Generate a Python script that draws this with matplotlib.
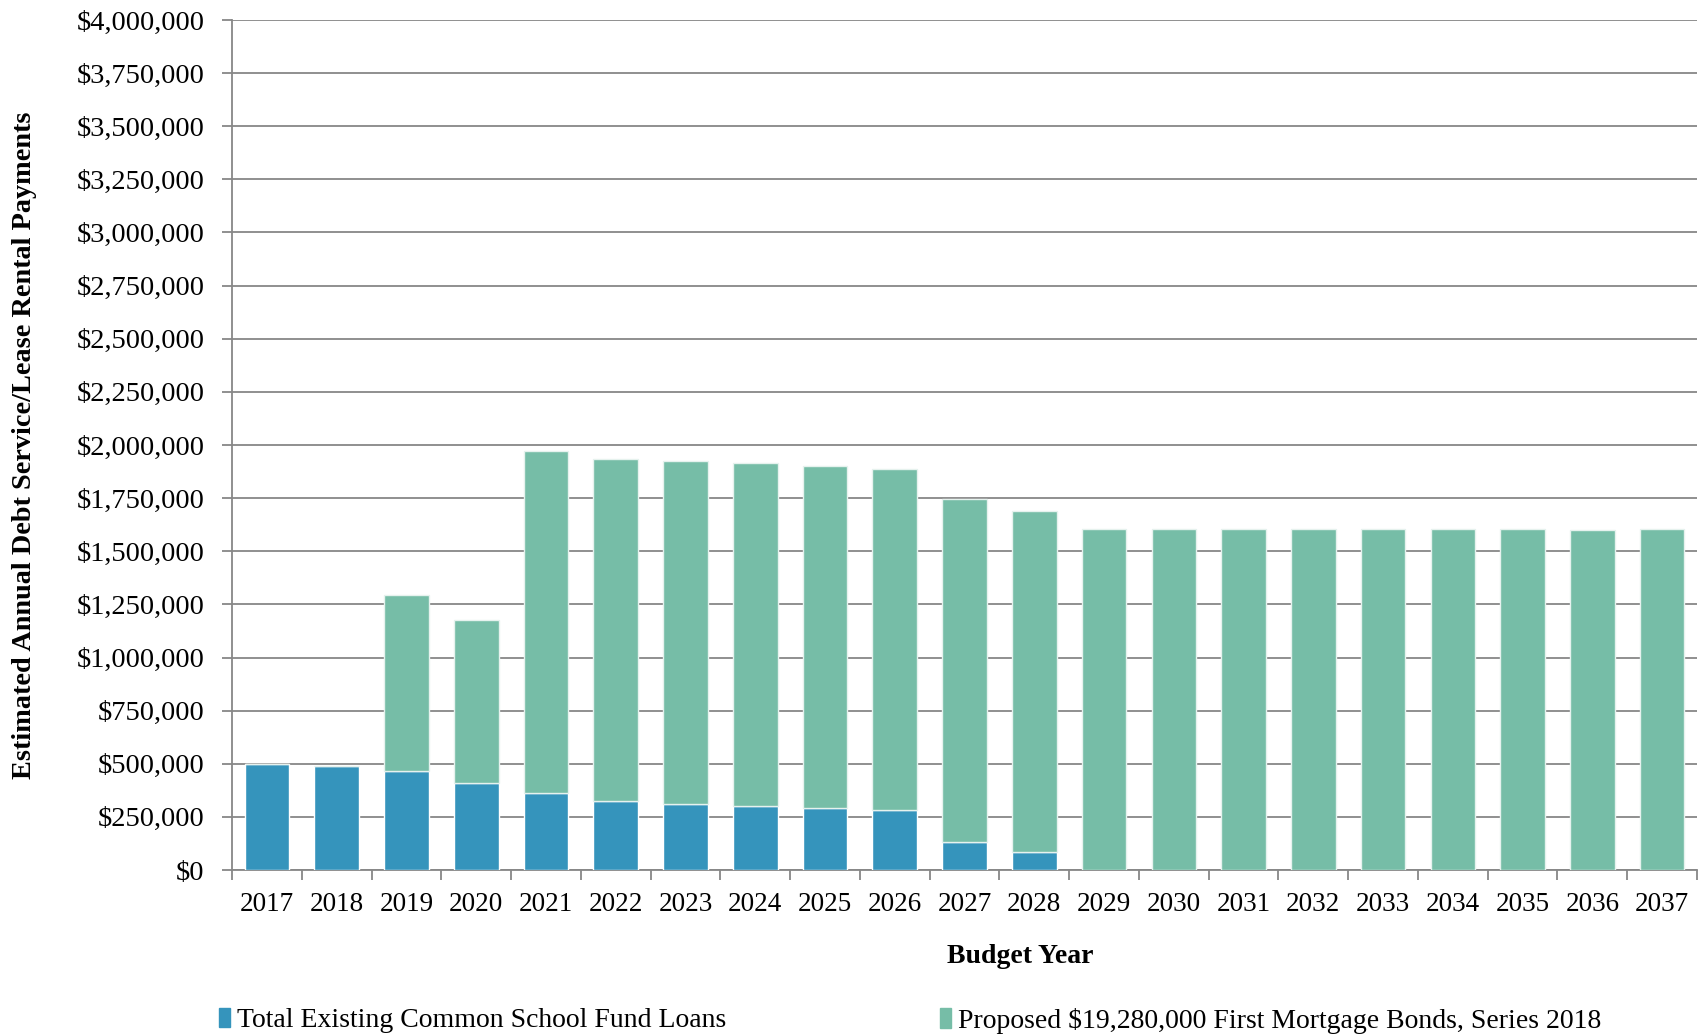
import matplotlib.pyplot as plt
import matplotlib.patches as mpatches
from matplotlib.ticker import FuncFormatter, MultipleLocator

plt.rcParams['font.family'] = ['Liberation Serif', 'DejaVu Serif']

years = ['2017', '2018', '2019', '2020', '2021', '2022', '2023', '2024', '2025', '2026', '2027',
         '2028', '2029', '2030', '2031', '2032', '2033', '2034', '2035', '2036', '2037']

# existing loans (blue)
existing = [500000, 490000, 465000, 410000, 361000, 323000, 312000, 300000, 290000, 281000, 130000,
            86000, 0, 0, 0, 0, 0, 0, 0, 0, 0]
# totals
totals = [500000, 490000, 1293000, 1176000, 1972000, 1936000, 1926000, 1915000, 1902000, 1888000, 1745000,
          1690000, 1604000, 1605000, 1607000, 1605000, 1607000, 1604000, 1607000, 1601000, 1605000]
proposed = [t - e for t, e in zip(totals, existing)]

blue = '#3594bc'
green = '#76bda7'
grid_col = '#878787'

fig = plt.figure(figsize=(17.04, 10.35), dpi=100)
ax = fig.add_axes([0.1362, 0.1594, 0.8597, 0.8213])

x = range(len(years))
ax.bar(x, existing, width=0.64, color=blue, edgecolor='white', linewidth=1.0, zorder=3)
ax.bar(x, proposed, width=0.64, bottom=existing, color=green, edgecolor='#e6f2ee', linewidth=1.0, zorder=3)

ax.set_ylim(0, 4000000)
ax.set_xlim(-0.5, len(years) - 0.5)
ax.yaxis.set_major_locator(MultipleLocator(250000))
ax.yaxis.set_major_formatter(FuncFormatter(lambda v, p: '${:,.0f}'.format(v)))
ax.grid(axis='y', color=grid_col, linewidth=1.3, zorder=0)
ax.set_axisbelow(True)

ax.set_xticks(list(x))
ax.set_xticklabels(years)
ax.set_xticks([i - 0.5 for i in range(len(years) + 1)], minor=True)
ax.tick_params(axis='x', which='major', length=0, pad=16, labelsize=19.5)
ax.tick_params(axis='x', which='minor', length=7, color=grid_col, width=1.3)
ax.tick_params(axis='y', length=7, color=grid_col, width=1.3, labelsize=20.5, pad=13)

for s in ['top', 'right']:
    ax.spines[s].set_visible(False)
for s in ['left', 'bottom']:
    ax.spines[s].set_color(grid_col)
    ax.spines[s].set_linewidth(1.3)

ax.set_ylabel('Estimated Annual Debt Service/Lease Rental Payments', fontsize=20.3, fontweight='bold')
ax.yaxis.set_label_coords(-0.1335, 0.5)
fig.text(0.599, 0.076, 'Budget Year', ha='center', va='center', fontsize=20, fontweight='bold')

h1 = mpatches.Patch(color=blue)
h2 = mpatches.Patch(color=green)
fig.legend([h1], ['Total Existing Common School Fund Loans'], loc='center left',
           bbox_to_anchor=(0.122, 0.014), frameon=False, fontsize=20,
           handlelength=0.4, handleheight=0.7, handletextpad=0.25, borderaxespad=0)
fig.legend([h2], ['Proposed $19,280,000 First Mortgage Bonds, Series 2018'], loc='center left',
           bbox_to_anchor=(0.545, 0.014), frameon=False, fontsize=20,
           handlelength=0.4, handleheight=0.7, handletextpad=0.25, borderaxespad=0)

fig.savefig('out.png', dpi=100)
